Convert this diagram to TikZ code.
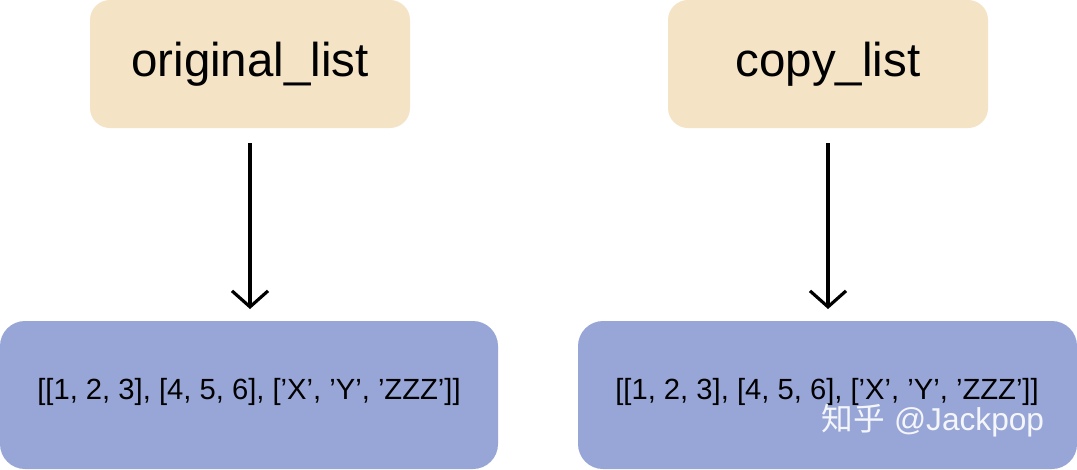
\documentclass[tikz,border=0pt]{standalone}
\usepackage{fontspec}
\setmainfont{Liberation Sans}
\newfontfamily\cjk{Noto Sans CJK SC}
\usetikzlibrary{arrows.meta}
\definecolor{beige}{HTML}{F5E3C6}
\definecolor{bluebox}{HTML}{97A6D6}
\begin{document}
\begin{tikzpicture}[x=0.01cm,y=-0.01cm,
  top/.style={fill=beige,rounded corners=0.2cm},
  bot/.style={fill=bluebox,rounded corners=0.25cm},
  arr/.style={line width=0.9pt,-{Straight Barb[length=0.16cm,width=0.36cm,line width=0.9pt]}}]
\useasboundingbox (0,0) rectangle (1077,469);
\fill[white] (0,0) rectangle (1077,469);
\fill[top] (90,0) rectangle (410,128);
\fill[top] (668,0) rectangle (988,128);
\fill[bot] (0,321) rectangle (498,469);
\fill[bot] (578,321) rectangle (1077,469);
\node[font=\fontsize{13.5}{16}\selectfont] (a) at (250,64) {original\_list};
\node[font=\fontsize{13.5}{16}\selectfont] (b) at (828,64) {copy\_list};
\node[font=\fontsize{8.3}{10}\selectfont] (c) at (249,392) {[[1, 2, 3], [4, 5, 6], ['X', 'Y', 'ZZZ']]};
\node[font=\fontsize{8.3}{10}\selectfont] (d) at (827,392) {[[1, 2, 3], [4, 5, 6], ['X', 'Y', 'ZZZ']]};
\coordinate (a1) at (250,143); \coordinate (a2) at (250,309);
\coordinate (b1) at (828,143); \coordinate (b2) at (828,309);
\draw[arr] (a1) -- (a2);
\draw[arr] (b1) -- (b2);
\node[text=white,opacity=0.9,font=\fontsize{9}{10}\selectfont] (w) at (933,420) {{\cjk 知乎} @Jackpop};
\end{tikzpicture}
\end{document}
